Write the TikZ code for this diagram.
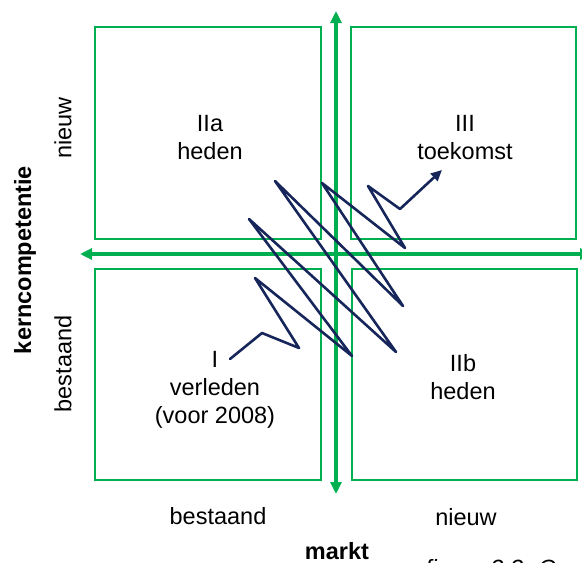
\documentclass[tikz,border=0pt]{standalone}
\usepackage{fontspec}
\setmainfont{Liberation Sans}
\usetikzlibrary{arrows.meta}
\definecolor{quadgreen}{RGB}{0,176,80}
\definecolor{pathnavy}{RGB}{22,38,90}
\begin{document}
\begin{tikzpicture}[x=1pt,y=-1pt,
  quad/.style={draw=quadgreen,line width=2pt},
  axis/.style={draw=quadgreen,line width=3.6pt,
    {Triangle[length=12pt,width=11pt]}-{Triangle[length=12pt,width=11pt]}},
  lbl/.style={font=\fontsize{23.5}{28}\selectfont,align=center,inner sep=0pt},
  zig/.style={draw=pathnavy,line width=2.6pt,line join=round,line cap=round},
]
\useasboundingbox (0,0) rectangle (582,563);
\clip (0,0) rectangle (582,563);
% four quadrants
\draw[quad] (95,27) rectangle (321,239);
\draw[quad] (351,27) rectangle (576,239);
\draw[quad] (95,269) rectangle (321,480);
\draw[quad] (352,269) rectangle (577,480);
% axes
\coordinate (vtop) at (336,11);
\coordinate (vbot) at (336,494);
\coordinate (hleft) at (80,254);
\coordinate (hright) at (592,254);
\draw[axis] (vbot) -- (vtop);
\draw[axis] (hright) -- (hleft);
% quadrant labels
\node[lbl] (q2a) at (210,138) {IIa\\heden};
\node[lbl] (q3) at (465,138) {III\\toekomst};
\node[lbl] (q1) at (215,390) {I\\verleden\\(voor 2008)};
\node[lbl] (q2b) at (463,377) {IIb\\heden};
% axis labels
\node[lbl] (mx1) at (218,516) {bestaand};
\node[lbl] (mx2) at (466,517) {nieuw};
\node[lbl,font=\fontsize{23.5}{28}\selectfont\bfseries] (mk) at (337,551) {markt};
\node[lbl,rotate=90] (ky1) at (63,128) {nieuw};
\node[lbl,rotate=90] (ky2) at (63,364) {bestaand};
\node[lbl,rotate=90,font=\fontsize{23.5}{28}\selectfont\bfseries] (kc) at (25,260) {kerncompetentie};
\node[lbl,anchor=base west,font=\fontsize{23.5}{28}\selectfont\itshape] (cap) at (425,576) {figuur 3.3. O};
% path from past to future
\coordinate (z0) at (230,359);
\coordinate (z1) at (262,333);
\coordinate (z2) at (299,348);
\coordinate (z3) at (255,278);
\coordinate (z4) at (352,356);
\coordinate (z5) at (249,219);
\coordinate (z6) at (396,352);
\coordinate (z7) at (275,181);
\coordinate (z8) at (403,306);
\coordinate (z9) at (322,183);
\coordinate (z10) at (405,248);
\coordinate (z11) at (368,186);
\coordinate (z12) at (400,209);
\coordinate (z13) at (442,170);
\draw[zig] (z0) -- (z1) -- (z2) -- (z3) -- (z4) -- (z5) -- (z6) -- (z7) -- (z8) -- (z9) -- (z10) -- (z11) -- (z12);
\draw[zig,-{Triangle[length=11pt,width=10pt]}] (z12) -- (z13);
\end{tikzpicture}
\end{document}
